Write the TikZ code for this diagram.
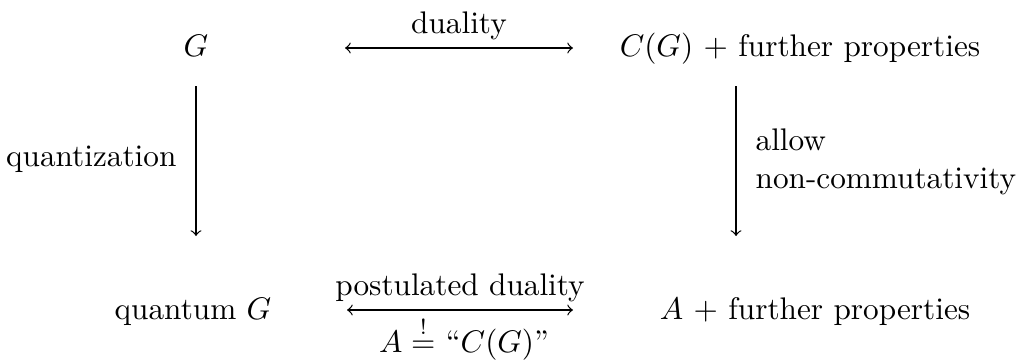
\documentclass[tikz,border=0pt]{standalone}
\begin{document}
\begin{tikzpicture}[x=0.32pt,y=-0.32pt,
  lbl/.style={inner sep=0pt, anchor=base},
  arr/.style={->},
  darr/.style={<->}]
\useasboundingbox (0,0) rectangle (1016,362);
% objects
\node[lbl] (G) at (196,56) {$G$};
\node[lbl] (CG) at (800,56) {$C(G)$ + further properties};
\node[lbl] (qG) at (193,319) {quantum $G$};
\node[lbl] (A) at (815,319) {$A$ + further properties};
% top arrow
\coordinate (t1) at (345,48);
\coordinate (t2) at (573,48);
\draw[darr] (t1) -- (t2);
\node[lbl] (dual) at (459,33) {duality};
% bottom arrow
\coordinate (b1) at (347,310);
\coordinate (b2) at (573,310);
\draw[darr] (b1) -- (b2);
\node[lbl] (pd) at (460,295) {postulated duality};
\node[lbl] (eq) at (464,352) {$A \stackrel{!}{=}$ ``$C(G)$''};
% vertical arrows
\coordinate (l1) at (196,86);
\coordinate (l2) at (196,236);
\draw[arr] (l1) -- (l2);
\node[inner sep=0pt, anchor=base east] (quant) at (177,166) {quantization};
\coordinate (r1) at (736,86);
\coordinate (r2) at (736,236);
\draw[arr] (r1) -- (r2);
\node[inner sep=0pt, anchor=west, align=left] (allow) at (755,162) {allow\\non-commutativity};
\end{tikzpicture}
\end{document}
